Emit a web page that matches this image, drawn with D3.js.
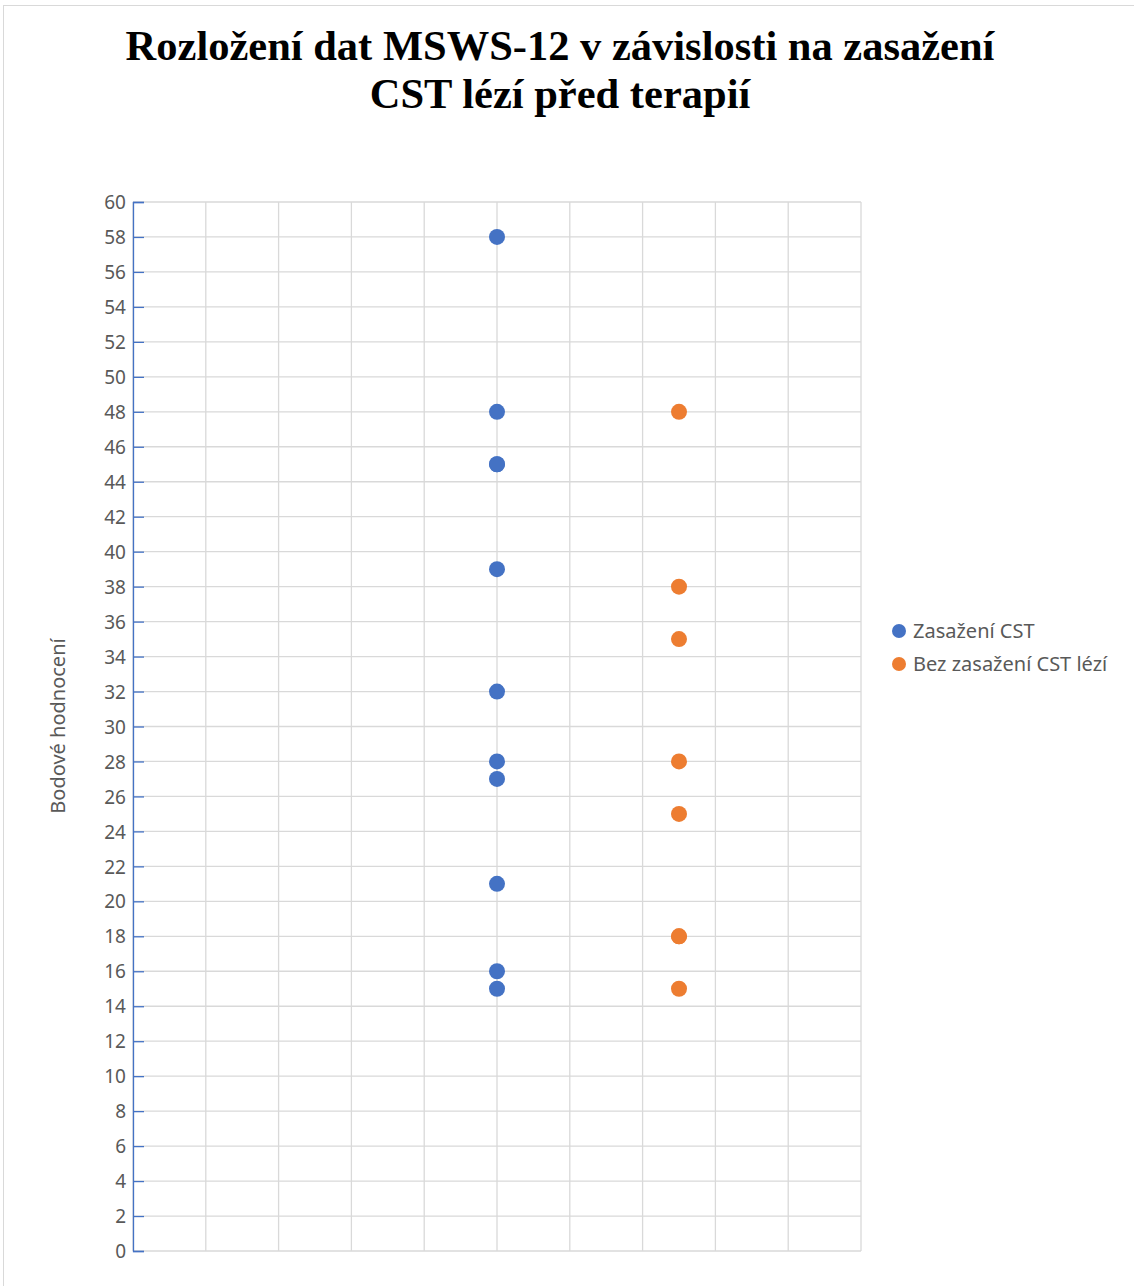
<!DOCTYPE html>
<html><head><meta charset="utf-8">
<script src="https://cdn.jsdelivr.net/npm/d3@7"></script>
<style>body{margin:0;background:#fff}</style>
</head><body>
<svg id="c" width="1134" height="1286"></svg>
<script>
const titleLines = ["Rozložení dat MSWS-12 v závislosti na zasažení", "CST lézí před terapií"];
const yAxisTitle = "Bodové hodnocení";
const seriesNames = ["Zasažení CST", "Bez zasažení CST lézí"];
const seriesColors = ["#4472C4", "#ED7D31"];
const seriesX = [1, 1.5];
const blueValues = [58, 48, 45, 45, 39, 32, 28, 27, 21, 16, 15];
const orangeValues = [48, 38, 35, 28, 25, 18, 18, 15];
const yTicks = d3.range(0, 61, 2);
const xTicks = d3.range(0, 2.0001, 0.2);

const svg = d3.select("#c");
svg.append("rect").attr("x",3.5).attr("y",5.5).attr("width",1140).attr("height",1290)
  .attr("fill","#fff").attr("stroke","#d9d9d9").attr("stroke-width",1);

const x = d3.scaleLinear().domain([0,2]).range([133,861]);
const y = d3.scaleLinear().domain([0,60]).range([1251,202]);

const tf = "'Liberation Serif','Times New Roman',serif";
svg.selectAll("text.title").data(titleLines).join("text")
  .attr("x",560).attr("y",(d,i)=>60+i*48).attr("text-anchor","middle")
  .attr("font-family",tf).attr("font-weight","bold").attr("font-size",42.5).attr("fill","#000").text(d=>d);

const g = svg.append("g");
g.selectAll("line.hg").data(yTicks).join("line")
  .attr("x1",133).attr("x2",861).attr("y1",d=>y(d)).attr("y2",d=>y(d))
  .attr("stroke","#d9d9d9").attr("stroke-width",1.3);
g.selectAll("line.vg").data(xTicks).join("line")
  .attr("x1",d=>x(d)).attr("x2",d=>x(d)).attr("y1",y(0)).attr("y2",y(60))
  .attr("stroke","#d9d9d9").attr("stroke-width",1.3);

const lf = "'Noto Sans','Open Sans',sans-serif";
const yAxis = d3.axisLeft(y).tickValues(yTicks).tickSize(-11).tickPadding(18);
const ga = g.append("g").attr("transform","translate(133,0)").call(yAxis);
ga.select(".domain").attr("stroke","#4472C4").attr("stroke-width",1.3);
ga.selectAll(".tick line").attr("stroke","#4472C4").attr("stroke-width",1.3);
ga.selectAll(".tick text").attr("font-family",lf).attr("font-size",19).attr("fill","#595959").attr("dy","0.35em").attr("x",-7);

svg.append("text").attr("transform","translate(65,726) rotate(-90)").attr("text-anchor","middle")
  .attr("font-family",lf).attr("font-size",20).attr("fill","#595959").text(yAxisTitle);

const series = [blueValues, orangeValues];
series.forEach((vals,si)=>{
  g.selectAll("circle.s"+si).data(vals).join("circle")
    .attr("cx",x(seriesX[si])).attr("cy",d=>y(d)).attr("r",8).attr("fill",seriesColors[si]);
});

const leg = svg.append("g");
seriesNames.forEach((n,i)=>{
  leg.append("circle").attr("cx",899).attr("cy",631+i*33).attr("r",7).attr("fill",seriesColors[i]);
  leg.append("text").attr("x",913).attr("y",631+i*33).attr("dy","0.35em")
    .attr("font-family",lf).attr("font-size",20).attr("fill","#595959").text(n);
});
</script>
</body></html>
